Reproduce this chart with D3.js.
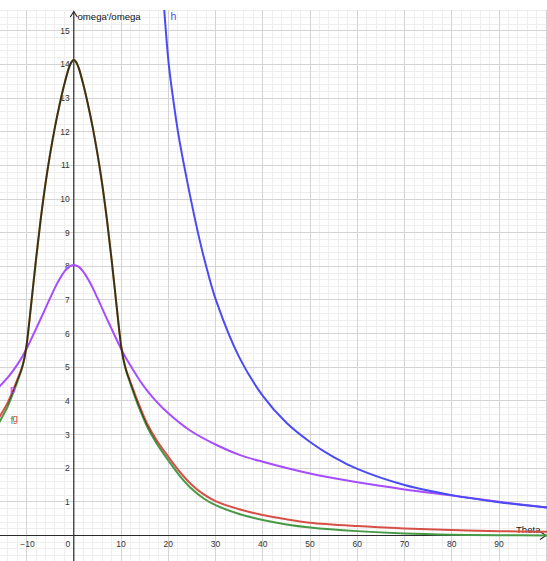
<!DOCTYPE html>
<html>
<head>
<meta charset="utf-8">
<script src="https://cdn.jsdelivr.net/npm/d3@7"></script>
<style>
  html, body { margin: 0; padding: 0; background: #fff; }
  svg { display: block; font-family: "Liberation Sans", Arial, sans-serif; }
</style>
</head>
<body>
<svg id="chart" width="547" height="561"></svg>
<script>
// ---- data ----
const xTicks = [-10, 0, 10, 20, 30, 40, 50, 60, 70, 80, 90];
const yTicks = [1, 2, 3, 4, 5, 6, 7, 8, 9, 10, 11, 12, 13, 14, 15];

// h (blue)
const thetaH = [19.1, 20.1, 21.1, 22.1, 23.2, 24.9, 26.6, 28.3, 30.2, 35, 40, 45, 50, 55, 60, 70, 80, 90, 100.2];
const valuesH = [15.7, 14.0, 12.9, 11.95, 11.1, 9.9, 8.8, 7.85, 6.95, 5.3, 4.15, 3.35, 2.78, 2.33, 1.98, 1.5, 1.2, 0.99, 0.83];

// p (purple)
const thetaP = [-15.7, -14, -13, -12, -11, -10, -9, -8, -7, -6, -5, -4, -3, -2, -1, 0, 1, 2, 3, 4, 5, 6, 7, 8, 9, 10, 11, 12, 13, 14, 15.4, 17.5, 20, 24.6, 30.2, 35.2, 40, 50, 60, 70, 80, 90, 100.2];
const valuesP = [4.43, 4.69, 4.87, 5.07, 5.29, 5.55, 5.84, 6.14, 6.44, 6.75, 7.06, 7.36, 7.62, 7.84, 7.99, 8.04, 7.99, 7.84, 7.62, 7.36, 7.06, 6.75, 6.44, 6.14, 5.84, 5.55, 5.28, 5.05, 4.82, 4.6, 4.33, 3.98, 3.63, 3.12, 2.69, 2.39, 2.19, 1.84, 1.58, 1.37, 1.19, 1.0, 0.83];

// g (red)
const thetaG = [-15.7, -14, -13, -12, -11, -10.5, -10, -9, -8, -7, -6, -5, -4, -3, -2, -1, -0.5, 0, 0.5, 1, 2, 3, 4, 5, 6, 7, 8, 9, 10, 10.5, 11, 12, 13, 14, 15.5, 17.5, 20, 22.5, 25, 27.5, 30, 35, 40, 45, 50, 60, 70, 80, 90, 100.2];
const valuesG = [3.53, 3.95, 4.27, 4.62, 4.98, 5.25, 5.65, 6.9, 8.2, 9.4, 10.45, 11.35, 12.13, 12.81, 13.41, 13.91, 14.07, 14.13, 14.07, 13.91, 13.41, 12.81, 12.13, 11.35, 10.45, 9.4, 8.2, 6.9, 5.65, 5.25, 4.96, 4.56, 4.18, 3.82, 3.33, 2.84, 2.34, 1.88, 1.5, 1.22, 1.02, 0.78, 0.61, 0.48, 0.38, 0.28, 0.21, 0.16, 0.13, 0.11];

// f (green)
const thetaF = [-15.7, -14, -13, -12, -11, -10.5, -10, -9, -8, -7, -6, -5, -4, -3, -2, -1, -0.5, 0, 0.5, 1, 2, 3, 4, 5, 6, 7, 8, 9, 10, 10.5, 11, 12, 13, 14, 15.5, 17.5, 20, 22.5, 25, 27.5, 30, 35, 40, 45, 50, 60, 70, 80, 90, 100.2];
const valuesF = [3.38, 3.83, 4.18, 4.55, 4.95, 5.23, 5.65, 6.9, 8.2, 9.4, 10.45, 11.35, 12.13, 12.81, 13.41, 13.91, 14.07, 14.13, 14.07, 13.91, 13.41, 12.81, 12.13, 11.35, 10.45, 9.4, 8.2, 6.9, 5.65, 5.23, 4.93, 4.5, 4.1, 3.73, 3.24, 2.74, 2.23, 1.76, 1.38, 1.1, 0.9, 0.64, 0.46, 0.33, 0.24, 0.13, 0.06, 0.025, 0.01, 0.0];

// ---- layout ----
const W = 547, H = 561, TOP = 10;
const X0 = 73.8, PX_DEG = 4.725;   // pixel position of theta=0 and px per degree
const Y0 = 535.5, PX_UNIT = 33.65; // pixel position of value=0 and px per unit

const x = d3.scaleLinear().domain([-X0 / PX_DEG, (W - X0) / PX_DEG]).range([0, W]);
const y = d3.scaleLinear().domain([-(H - Y0) / PX_UNIT, (Y0 - TOP) / PX_UNIT]).range([H, TOP]);

const svg = d3.select("#chart");
svg.append("defs").append("clipPath").attr("id", "plotclip")
  .append("rect").attr("x", 0).attr("y", TOP).attr("width", W).attr("height", H - TOP);

const grid = svg.append("g").attr("clip-path", "url(#plotclip)");
const [xa, xb] = x.domain(), [ya, yb] = y.domain();

// minor grid
d3.range(Math.ceil(xa / 2) * 2, xb, 2).forEach(v => {
  grid.append("line").attr("x1", x(v)).attr("x2", x(v)).attr("y1", TOP).attr("y2", H)
    .attr("stroke", "#eeeeee").attr("stroke-width", 1).attr("shape-rendering", "crispEdges");
});
d3.range(Math.ceil(ya / 0.2), Math.floor(yb / 0.2) + 1).map(k => k * 0.2).forEach(v => {
  grid.append("line").attr("y1", y(v)).attr("y2", y(v)).attr("x1", 0).attr("x2", W)
    .attr("stroke", "#eeeeee").attr("stroke-width", 1).attr("shape-rendering", "crispEdges");
});
// major grid
d3.range(Math.ceil(xa / 10) * 10, xb, 10).forEach(v => {
  grid.append("line").attr("x1", x(v)).attr("x2", x(v)).attr("y1", TOP).attr("y2", H)
    .attr("stroke", "#d4d4d4").attr("stroke-width", 1).attr("shape-rendering", "crispEdges");
});
d3.range(Math.ceil(ya), Math.floor(yb) + 1).forEach(v => {
  grid.append("line").attr("y1", y(v)).attr("y2", y(v)).attr("x1", 0).attr("x2", W)
    .attr("stroke", "#d4d4d4").attr("stroke-width", 1).attr("shape-rendering", "crispEdges");
});

// axes
const axisCol = "#2b2b2b";
const ax = svg.append("g").attr("stroke", axisCol).attr("stroke-width", 1.2).attr("fill", "none");
ax.append("line").attr("x1", 0).attr("x2", W - 1).attr("y1", y(0)).attr("y2", y(0));
ax.append("path").attr("d", `M${W - 7},${y(0) - 4} L${W - 1},${y(0)} L${W - 7},${y(0) + 4}`);
ax.append("line").attr("x1", x(0)).attr("x2", x(0)).attr("y1", H).attr("y2", 11.5);
ax.append("path").attr("d", `M${x(0) - 3.5},${17} L${x(0)},${11.5} L${x(0) + 3.5},${17}`);

// tick labels
const tickCol = "#333";
const tl = svg.append("g").attr("font-size", 8.5).attr("fill", tickCol);
xTicks.forEach(v => {
  const t = tl.append("text").attr("y", y(0) + 11).text(d3.format("d")(v));
  if (v === 0) t.attr("x", x(0) - 6).attr("text-anchor", "middle");
  else t.attr("x", x(v) + (v < 0 ? 1 : 0)).attr("text-anchor", "middle");
});
yTicks.forEach(v => {
  tl.append("text").attr("x", x(0) - 4).attr("y", y(v) + 3).attr("text-anchor", "end").text(v);
});

// axis titles
svg.append("text").attr("x", 77.5).attr("y", 20).attr("font-size", 9.6).attr("fill", "#111").text("omega'/omega");
svg.append("text").attr("x", 516).attr("y", 533).attr("font-size", 9.6).attr("fill", "#111").text("Theta");

// curves
const line = d3.line().x(d => x(d[0])).y(d => y(d[1])).curve(d3.curveCatmullRom.alpha(0.5));
const curves = svg.append("g").attr("clip-path", "url(#plotclip)").attr("fill", "none").attr("stroke-width", 2)
  .attr("stroke-linejoin", "round").attr("stroke-linecap", "round");

curves.append("path").datum(d3.zip(thetaP, valuesP)).attr("d", line).attr("stroke", "#a64dff");
curves.append("path").datum(d3.zip(thetaH, valuesH)).attr("d", line).attr("stroke", "#4b4bf5");
curves.append("path").datum(d3.zip(thetaG, valuesG)).attr("d", line).attr("stroke", "#d65048");
curves.append("path").datum(d3.zip(thetaF, valuesF)).attr("d", line).attr("stroke", "#469a46")
  .style("mix-blend-mode", "multiply");

// curve labels
svg.append("text").attr("x", 170.5).attr("y", 20).attr("font-size", 10.5).attr("fill", "#4b4bf5").text("h");
svg.append("text").attr("x", 10).attr("y", 393).attr("font-size", 10).attr("fill", "#a64dff").text("p");
svg.append("text").attr("x", 12.5).attr("y", 421.5).attr("font-size", 10).attr("fill", "#d65048").text("g");
svg.append("text").attr("x", 10.5).attr("y", 424).attr("font-size", 10).attr("fill", "#469a46").text("f");
</script>
</body>
</html>
